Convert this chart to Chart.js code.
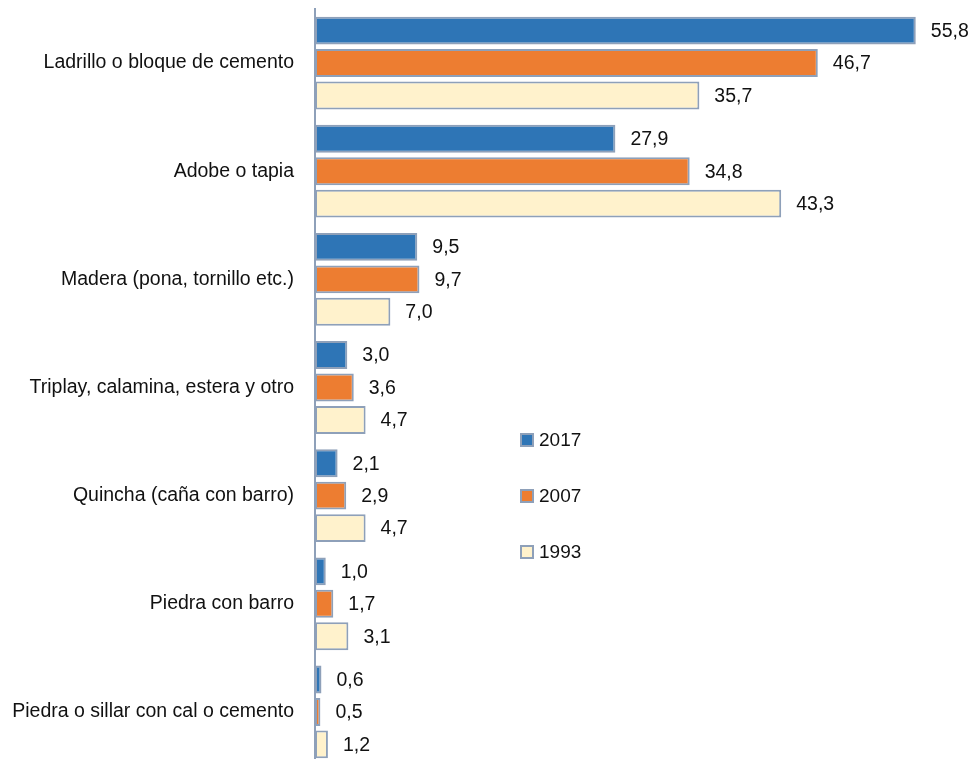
<!DOCTYPE html>
<html>
<head>
<meta charset="utf-8">
<script src="https://cdn.jsdelivr.net/npm/chart.js@4.4.1/dist/chart.umd.min.js"></script>
<style>
  html, body { margin: 0; padding: 0; background: #fff; overflow: hidden; }
  #wrap { width: 971px; height: 766px; position: relative; }
</style>
</head>
<body>
<div id="wrap"><canvas id="chart"></canvas></div>
<script>
// categories (top to bottom)
var categorias = [
    "Ladrillo o bloque de cemento",
    "Adobe o tapia",
    "Madera (pona, tornillo etc.)",
    "Triplay, calamina, estera y otro",
    "Quincha (caña con barro)",
    "Piedra con barro",
    "Piedra o sillar con cal o cemento"
];

// series values (%)
var anios = ["2017", "2007", "1993"];
var v2017 = [55.8, 27.9, 9.5, 3.0, 2.1, 1.0, 0.6];
var v2007 = [46.7, 34.8, 9.7, 3.6, 2.9, 1.7, 0.5];
var v1993 = [35.7, 43.3, 7.0, 4.7, 4.7, 3.1, 1.2];

var colores = ["#2E75B6", "#ED7D31", "#FFF2CC"];
var borde = "#8EA0B9";
var fuente = "'Liberation Sans', Arial, sans-serif";

// value labels with comma decimals
var valueLabels = {
    id: 'valueLabels',
    afterDatasetsDraw: function (chart) {
        var ctx = chart.ctx;
        ctx.save();
        ctx.font = "19.5px " + fuente;
        ctx.fillStyle = "#111";
        ctx.textAlign = "left";
        ctx.textBaseline = "middle";
        chart.data.datasets.forEach(function (ds, i) {
            var meta = chart.getDatasetMeta(i);
            meta.data.forEach(function (bar, j) {
                var txt = ds.data[j].toFixed(1).replace('.', ',');
                ctx.fillText(txt, bar.x + 15, bar.y + 1);
            });
        });
        ctx.restore();
    }
};

// legend in the middle of the plot
var legendaCentro = {
    id: 'legendaCentro',
    afterDraw: function (chart) {
        var ctx = chart.ctx;
        ctx.save();
        ctx.font = "19px " + fuente;
        ctx.textBaseline = "middle";
        anios.forEach(function (a, i) {
            var y = 440 + i * 56;
            ctx.fillStyle = colores[i];
            ctx.fillRect(521, y - 6, 12, 12);
            ctx.strokeStyle = borde;
            ctx.lineWidth = 2;
            ctx.strokeRect(521, y - 6, 12, 12);
            ctx.fillStyle = "#111";
            ctx.fillText(a, 539, y + 1);
        });
        ctx.restore();
    }
};

new Chart("chart", {
    type: "bar",
    data: {
        labels: categorias,
        datasets: [
            { label: anios[0], data: v2017, backgroundColor: colores[0] },
            { label: anios[1], data: v2007, backgroundColor: colores[1] },
            { label: anios[2], data: v1993, backgroundColor: colores[2] }
        ].map(function (d) {
            d.borderColor = borde;
            d.borderWidth = 2;
            d.borderSkipped = false;
            d.categoryPercentage = 0.9;
            d.barPercentage = 0.86;
            return d;
        })
    },
    options: {
        indexAxis: 'y',
        responsive: true,
        maintainAspectRatio: false,
        animation: false,
        layout: { padding: { top: 9, right: 10, bottom: 0, left: 0 } },
        plugins: {
            legend: { display: false },
            tooltip: { enabled: false }
        },
        scales: {
            x: {
                display: false,
                min: 0,
                max: 60
            },
            y: {
                afterFit: function (scale) {
                    scale.width = 315;
                    scale.paddingTop = 0;
                    scale.paddingBottom = 0;
                },
                grid: { display: false, drawTicks: false },
                border: { display: true, color: "#8EA0B9", width: 2 },
                ticks: {
                    padding: 21,
                    color: "#111",
                    font: { family: fuente, size: 19.5 }
                }
            }
        }
    },
    plugins: [valueLabels, legendaCentro]
});
</script>
</body>
</html>
